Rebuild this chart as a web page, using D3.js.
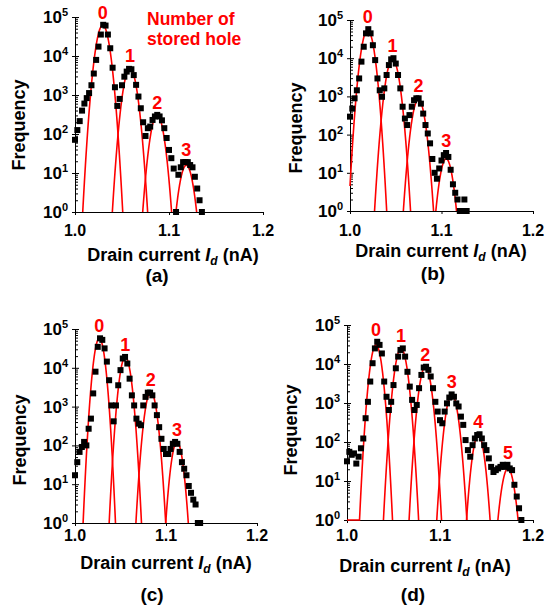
<!DOCTYPE html>
<html>
<head>
<meta charset="utf-8">
<script src="https://cdn.jsdelivr.net/npm/d3@7"></script>
<style>
body { margin: 0; background: #fff; }
svg text { font-family: "Liberation Sans", Arial, sans-serif; font-weight: bold; }
</style>
</head>
<body>
<script>
// histogram bins (nA), same binning in all four panels
const binStart = 1.0
const binWidth = 0.0025

// measured counts per bin
const countsA = [71,126,214,398,603,832,1120,1780,3550,7940,17400,35500,63100,60300,35500,15800,5010,1580,525,794,
  1780,2950,3980,4680,4570,3240,1820,912,457,200,89,141,155,229,282,309,282,224,141,79,
  39,24,13,1,9,14,19,19,19,16,14,8,4,2,1]
const countsB = [295,479,891,1445,2951,8128,19953,44668,57544,44668,21878,8913,2951,1445,977,1622,3631,6607,9333,10000,
  7244,3631,1622,537,263,178,324,537,794,891,891,646,355,178,107,59,23,10,7,13,
  21,29,33,26,12,5,3,2,1,1,2,1]
const countsC = [17,37,68,91,123,100,269,490,2188,7943,34674,57544,52481,31623,14454,4786,1072,417,1072,3548,
  8710,17378,19055,12882,5248,1950,1072,490,363,331,1072,1778,2291,2291,1950,1072,603,295,148,81,
  60,60,81,110,123,110,68,37,25,17,9,6,4,3,1,1]
const countsD = [32,56,47,51,28,42,69,123,407,1072,3548,10471,25119,37154,30903,18621,3548,1445,661,1072,
  2884,7762,15488,22909,25119,15488,6310,2630,1202,661,891,2399,5248,8128,8511,7079,4786,2399,1072,603,
  363,302,603,977,1380,1660,1445,977,813,447,275,112,62,42,83,123,151,158,123,83,
  62,38,23,17,19,21,23,26,23,26,21,19,8,4,2,1]

// gaussian fits: one per number of stored holes
const centersA = [1.0295, 1.0585, 1.0874, 1.1184]
const heightsA = [61700, 4790, 309, 15.8]
const sigmasA = [0.00453, 0.00456, 0.00454, 0.00468]

const centersB = [1.0193, 1.0465, 1.0748, 1.1051]
const heightsB = [55000, 9330, 832, 23.4]
const sigmasB = [0.00445, 0.0046, 0.0045, 0.0045]

const centersC = [1.0267, 1.0553, 1.0833, 1.1121]
const heightsC = [57500, 19000, 2400, 123]
const sigmasC = [0.0038, 0.0040, 0.00415, 0.0040]

const centersD = [1.0312, 1.0581, 1.0842, 1.1127, 1.1412, 1.1731]
const heightsD = [30900, 25100, 8500, 1660, 151, 21]
const sigmasD = [0.0039, 0.0042, 0.0041, 0.0042, 0.0040, 0.0044]

const xTicks = [1.0, 1.1, 1.2]
const yDecades = [0, 1, 2, 3, 4, 5]
const panelNames = ['(a)', '(b)', '(c)', '(d)']

const width = 546
const height = 611
const red = '#ff0000'

// where each panel sits on the page
const layout = [
  {l: 75, r: 263, t: 17, b: 212, tickY: 236, titleX: 173, titleY: 261, nameX: 157, nameY: 282, freqX: 25, freqY: 125},
  {l: 350, r: 533, t: 20, b: 211, tickY: 236, titleX: 441, titleY: 257, nameX: 433, nameY: 280, freqX: 302, freqY: 128},
  {l: 75, r: 257, t: 329, b: 523, tickY: 541, titleX: 166, titleY: 569, nameX: 152, nameY: 601, freqX: 26, freqY: 440},
  {l: 347, r: 533, t: 325, b: 520, tickY: 541, titleX: 425, titleY: 572, nameX: 413, nameY: 601, freqX: 297, freqY: 430}
]

const panels = [
  {counts: countsA, centers: centersA, heights: heightsA, sigmas: sigmasA},
  {counts: countsB, centers: centersB, heights: heightsB, sigmas: sigmasB},
  {counts: countsC, centers: centersC, heights: heightsC, sigmas: sigmasC},
  {counts: countsD, centers: centersD, heights: heightsD, sigmas: sigmasD, extendFirst: true}
]

const svg = d3.select('body').append('svg')
  .attr('width', width)
  .attr('height', height)

const minor = []
for (let d = 0; d < 5; d++) for (let k = 2; k < 10; k++) minor.push(k * Math.pow(10, d))

panels.forEach((p, pi) => {
  const L = layout[pi]
  const xScale = d3.scaleLinear().domain([1.0, 1.2]).range([L.l, L.r])
  const yScale = d3.scaleLog().domain([1, 1e5]).range([L.b, L.t])
  const g = svg.append('g')

  // axes
  g.append('g')
    .attr('transform', 'translate(' + L.l + ',0)')
    .call(d3.axisLeft(yScale).tickValues(yDecades.map(d => Math.pow(10, d))).tickSize(3).tickSizeOuter(0).tickFormat(''))
  g.append('g')
    .attr('transform', 'translate(' + L.l + ',0)')
    .call(d3.axisRight(yScale).tickValues(yDecades.map(d => Math.pow(10, d))).tickSize(4).tickSizeOuter(0).tickFormat(''))
  g.append('g')
    .attr('transform', 'translate(' + L.l + ',0)')
    .call(d3.axisRight(yScale).tickValues(minor).tickSize(3).tickSizeOuter(0).tickFormat(''))
  g.append('g')
    .attr('transform', 'translate(0,' + L.b + ')')
    .call(d3.axisBottom(xScale).tickValues(xTicks).tickSize(3).tickSizeOuter(0).tickFormat(''))
  g.selectAll('.domain, .tick line').attr('stroke', '#000').attr('stroke-width', 1)

  // tick labels
  yDecades.forEach(d => {
    const t = g.append('text')
      .attr('x', L.l - 7)
      .attr('y', yScale(Math.pow(10, d)) + 6)
      .attr('text-anchor', 'end')
      .attr('font-size', 17)
    t.append('tspan').text('10')
    t.append('tspan').attr('dy', -7).attr('font-size', 11).text(d)
  })
  g.selectAll('.xlab')
    .data(xTicks)
    .enter()
    .append('text')
    .attr('x', d => xScale(d))
    .attr('y', L.tickY)
    .attr('text-anchor', 'middle')
    .attr('font-size', 16)
    .text(d => d.toFixed(1))

  // axis titles
  const xt = g.append('text')
    .attr('x', L.titleX)
    .attr('y', L.titleY)
    .attr('text-anchor', 'middle')
    .attr('font-size', 18)
  xt.append('tspan').text('Drain current ')
  xt.append('tspan').attr('font-style', 'italic').text('I')
  xt.append('tspan').attr('font-style', 'italic').attr('font-size', 12).attr('dy', 4).text('d')
  xt.append('tspan').attr('dy', -4).text(' (nA)')

  g.append('text')
    .attr('transform', 'translate(' + L.freqX + ',' + L.freqY + ') rotate(-90)')
    .attr('text-anchor', 'middle')
    .attr('font-size', 18)
    .text('Frequency')

  g.append('text')
    .attr('x', L.nameX)
    .attr('y', L.nameY)
    .attr('text-anchor', 'middle')
    .attr('font-size', 19)
    .text(panelNames[pi])

  // fitted gaussians
  const line = d3.line().x(d => xScale(d[0])).y(d => yScale(d[1]))
  p.centers.forEach((mu, i) => {
    const A = p.heights[i], s = p.sigmas[i]
    const hw = s * Math.sqrt(2 * Math.log(A))
    let x0 = Math.max(1.0, mu - hw)
    if (p.extendFirst && i === 0) x0 = 1.0
    const x1 = Math.min(1.2, mu + hw)
    const pts = d3.range(0, 121).map(k => {
      const x = x0 + (x1 - x0) * k / 120
      const v = A * Math.exp(-(x - mu) * (x - mu) / (2 * s * s))
      return [x, Math.max(1, v)]
    })
    g.append('path')
      .attr('d', line(pts))
      .attr('fill', 'none')
      .attr('stroke', red)
      .attr('stroke-width', 1.6)
  })

  // measured histogram
  g.selectAll('rect.pt')
    .data(p.counts)
    .enter()
    .append('rect')
    .attr('class', 'pt')
    .attr('x', (d, i) => xScale(binStart + i * binWidth) - 3)
    .attr('y', d => yScale(d) - 3)
    .attr('width', 6)
    .attr('height', 6)
    .attr('fill', '#000')

  // peak labels
  p.centers.forEach((mu, i) => {
    let top = p.heights[i]
    p.counts.forEach((c, k) => {
      const x = binStart + k * binWidth
      if (Math.abs(x - mu) < 1.2 * p.sigmas[i] && c > top) top = c
    })
    g.append('text')
      .attr('x', xScale(mu))
      .attr('y', yScale(top) - 6)
      .attr('text-anchor', 'middle')
      .attr('font-size', 18)
      .attr('fill', red)
      .text(i)
  })
})

// legend note for panel (a)
svg.append('text')
  .attr('x', 147).attr('y', 25)
  .attr('font-size', 17.5).attr('fill', red)
  .text('Number of')
svg.append('text')
  .attr('x', 147).attr('y', 45)
  .attr('font-size', 17.5).attr('fill', red)
  .text('stored hole')
</script>
</body>
</html>
